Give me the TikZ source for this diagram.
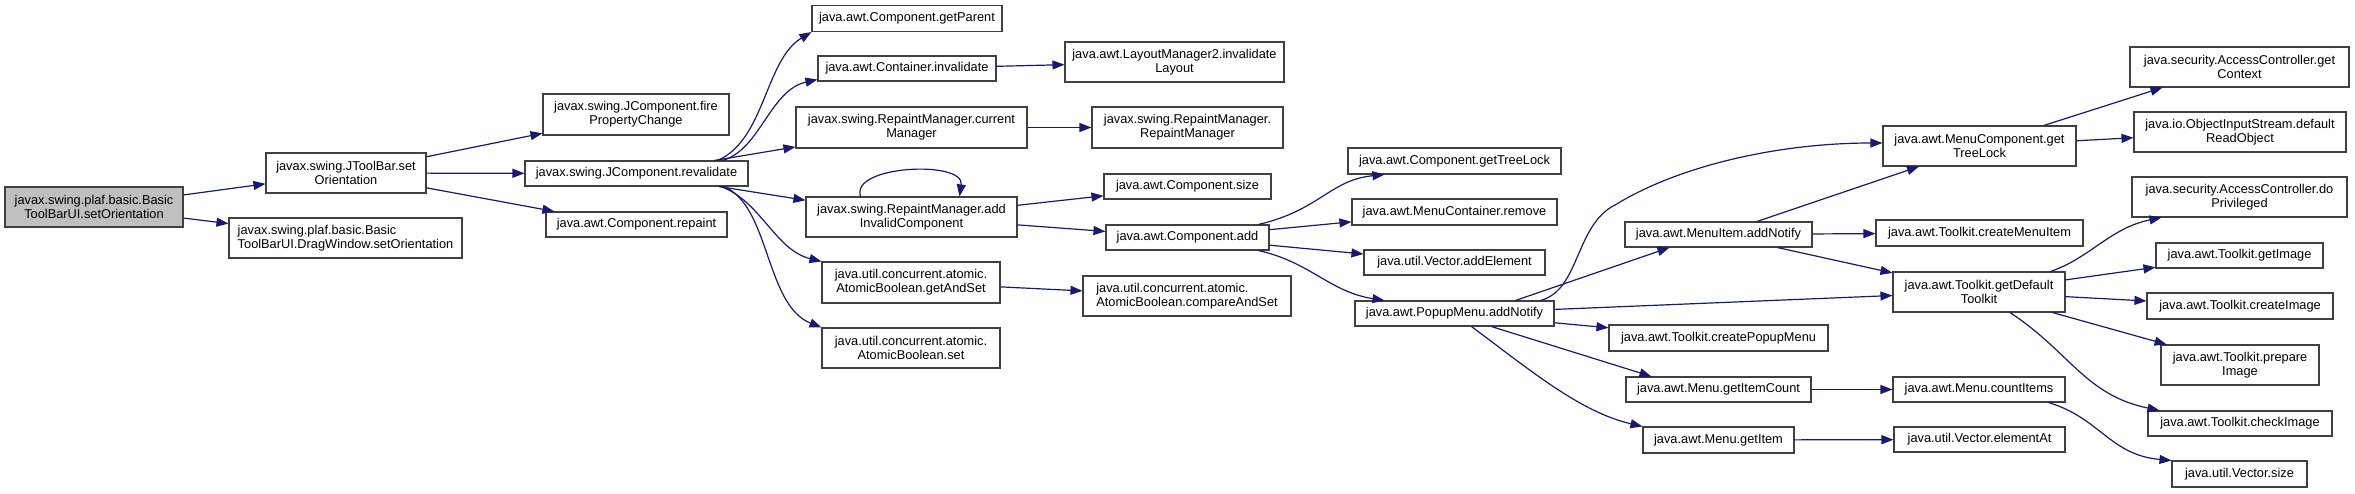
\documentclass[tikz,border=0pt]{standalone}
\usepackage{fontspec}
\setmainfont{Liberation Sans}
\usetikzlibrary{arrows.meta,calc}
\definecolor{edgec}{HTML}{191970}
\definecolor{boxc}{HTML}{404040}
\definecolor{rootfill}{HTML}{BFBFBF}
\newcommand{\dfont}{\fontsize{12.8}{14}\selectfont}
\tikzset{
  box/.style={draw=boxc, line width=1.1pt, fill=white, inner sep=0pt, font=\dfont, text=black, align=center},
  lbox/.style={box, align=left},
  rootbox/.style={box, fill=rootfill},
  edge/.style={draw=edgec, line width=1.2pt, -{Triangle[length=12pt,width=9pt]}}
}
\begin{document}
\begin{tikzpicture}[x=1pt,y=-1pt]
\useasboundingbox (0,0) rectangle (2355,493);
% nodes
\node[rootbox, minimum width=178pt, minimum height=40pt] (root) at (94,207) {javax.swing.plaf.basic.Basic\\ToolBarUI.setOrientation};
\node[box, minimum width=160pt, minimum height=40pt] (tb) at (346,173) {javax.swing.JToolBar.set\\Orientation};
\node[lbox, minimum width=233pt, minimum height=40pt] (dw) at (345.5,238) {javax.swing.plaf.basic.Basic\\ToolBarUI.DragWindow.setOrientation};
\node[box, minimum width=186pt, minimum height=41pt] (fpc) at (636,114.5) {javax.swing.JComponent.fire\\PropertyChange};
\node[box, minimum width=223pt, minimum height=25pt] (rev) at (636.5,173.5) {javax.swing.JComponent.revalidate};
\node[box, minimum width=181pt, minimum height=25pt] (rep) at (636.5,224.5) {java.awt.Component.repaint};
\node[box, minimum width=190pt, minimum height=26pt] (gp) at (907,18.5) {java.awt.Component.getParent};
\node[box, minimum width=178pt, minimum height=25pt] (ci) at (907,68.5) {java.awt.Container.invalidate};
\node[box, minimum width=219pt, minimum height=40pt] (lm) at (1174.5,62) {java.awt.LayoutManager2.invalidate\\Layout};
\node[box, minimum width=231pt, minimum height=41pt] (cm) at (911.5,127.5) {javax.swing.RepaintManager.current\\Manager};
\node[box, minimum width=191pt, minimum height=41pt] (rmrm) at (1187.5,127.5) {javax.swing.RepaintManager.\\RepaintManager};
\node[box, minimum width=211pt, minimum height=40pt] (aic) at (911.5,217) {javax.swing.RepaintManager.add\\InvalidComponent};
\node[box, minimum width=178pt, minimum height=41pt] (gas) at (911,282.5) {java.util.concurrent.atomic.\\AtomicBoolean.getAndSet};
\node[box, minimum width=178pt, minimum height=40pt] (abs) at (911,348) {java.util.concurrent.atomic.\\AtomicBoolean.set};
\node[box, minimum width=167pt, minimum height=25pt] (cs) at (1187.5,186.5) {java.awt.Component.size};
\node[box, minimum width=163pt, minimum height=25pt] (ca) at (1187.5,237.5) {java.awt.Component.add};
\node[lbox, minimum width=208pt, minimum height=40pt] (cas) at (1187,296) {java.util.concurrent.atomic.\\AtomicBoolean.compareAndSet};
\node[box, minimum width=213pt, minimum height=26pt] (gtl) at (1454.5,161) {java.awt.Component.getTreeLock};
\node[box, minimum width=205pt, minimum height=26pt] (mcr) at (1454.5,212) {java.awt.MenuContainer.remove};
\node[box, minimum width=181pt, minimum height=25pt] (vae) at (1454.5,262.5) {java.util.Vector.addElement};
\node[box, minimum width=199pt, minimum height=25pt] (pan) at (1454.5,313.5) {java.awt.PopupMenu.addNotify};
\node[box, minimum width=187pt, minimum height=25pt] (mia) at (1718.5,234.5) {java.awt.MenuItem.addNotify};
\node[box, minimum width=219pt, minimum height=26pt] (tcpm) at (1718.5,338) {java.awt.Toolkit.createPopupMenu};
\node[box, minimum width=185pt, minimum height=25pt] (mgic) at (1718.5,389.5) {java.awt.Menu.getItemCount};
\node[box, minimum width=151pt, minimum height=26pt] (mgi) at (1718.5,440) {java.awt.Menu.getItem};
\node[box, minimum width=193pt, minimum height=40pt] (mctl) at (1979.5,146) {java.awt.MenuComponent.get\\TreeLock};
\node[box, minimum width=207pt, minimum height=26pt] (tcmi) at (1979.5,233) {java.awt.Toolkit.createMenuItem};
\node[box, minimum width=172pt, minimum height=40pt] (gdt) at (1979,292) {java.awt.Toolkit.getDefault\\Toolkit};
\node[box, minimum width=172pt, minimum height=25pt] (mci) at (1979,389.5) {java.awt.Menu.countItems};
\node[box, minimum width=171pt, minimum height=25pt] (vea) at (1979.5,439.5) {java.util.Vector.elementAt};
\node[box, minimum width=219pt, minimum height=40pt] (agc) at (2239.5,67) {java.security.AccessController.get\\Context};
\node[box, minimum width=212pt, minimum height=40pt] (ois) at (2240,132) {java.io.ObjectInputStream.default\\ReadObject};
\node[box, minimum width=215pt, minimum height=40pt] (adp) at (2239.5,197) {java.security.AccessController.do\\Privileged};
\node[box, minimum width=167pt, minimum height=25pt] (tgi) at (2239.5,255.5) {java.awt.Toolkit.getImage};
\node[box, minimum width=186pt, minimum height=26pt] (tci) at (2240,306) {java.awt.Toolkit.createImage};
\node[box, minimum width=158pt, minimum height=40pt] (tpi) at (2240,365) {java.awt.Toolkit.prepare\\Image};
\node[box, minimum width=184pt, minimum height=25pt] (tchk) at (2240,423.5) {java.awt.Toolkit.checkImage};
\node[box, minimum width=135pt, minimum height=26pt] (vs) at (2239.5,474) {java.util.Vector.size};
% edges
\draw[edge] (root) -- (tb);
\draw[edge] (root) -- (dw);
\draw[edge] (tb) -- (fpc);
\draw[edge] (tb) -- (rev);
\draw[edge] (tb) -- ($(rep.north west)+(9,0)$);
\draw[edge] ($(rev.north east)+(-31,0)$) .. controls (765,140) and (765,60) .. (gp.south west);
\draw[edge] ($(rev.north east)+(-26,0)$) .. controls (760,150) and (770,90) .. ($(ci.south west)+(0,-2)$);
\draw[edge] (rev) -- (cm);
\draw[edge] (rev) -- (aic);
\draw[edge] ($(rev.south east)+(-28,0)$) .. controls (760,200) and (775,250) .. (gas.north west);
\draw[edge] ($(rev.south east)+(-25,0)$) .. controls (770,205) and (765,305) .. (abs.north west);
\draw[edge] (ci) -- (lm);
\draw[edge] (cm) -- (rmrm);
\draw[edge] ($(aic.north)+(-51,0)$) .. controls (850,165) and (965,160) .. ($(aic.north)+(48,0)$);
\draw[edge] (aic) -- (cs);
\draw[edge] (aic) -- (ca);
\draw[edge] (gas) -- (cas);
\draw[edge] ($(ca.north east)+(-11,0)$) .. controls (1320,210) and (1330,180) .. ($(gtl.south west)+(37,0)$);
\draw[edge] (ca) -- (mcr);
\draw[edge] (ca) -- (vae);
\draw[edge] ($(ca.south east)+(-11,0)$) .. controls (1310,262) and (1330,292) .. ($(pan.north west)+(30,0)$);
\draw[edge] ($(pan.north east)+(-14,0)$) .. controls (1580,290) and (1575,225) .. (1615,205) .. controls (1680,165) and (1780,143) .. ($(mctl.west)+(0,-3)$);
\draw[edge] ($(pan.north east)+(-39,0)$) -- ($(mia.south west)+(45,0)$);
\draw[edge] (pan) -- (gdt);
\draw[edge] (pan) -- (tcpm);
\draw[edge] ($(pan.south)+(37,0)$) -- ($(mgic.north west)+(26,0)$);
\draw[edge] ($(pan.south)+(17,0)$) .. controls (1530,370) and (1580,412) .. (mgi.north west);
\draw[edge] (mia) -- (mctl);
\draw[edge] (mia) -- (tcmi);
\draw[edge] (mia) -- (gdt);
\draw[edge] (mctl) -- ($(agc.south west)+(33,0)$);
\draw[edge] (mctl) -- (ois);
\draw[edge] ($(gdt.north east)+(-15,0)$) .. controls (2090,258) and (2110,228) .. ($(adp.south west)+(30,0)$);
\draw[edge] (gdt) -- (tgi);
\draw[edge] (gdt) -- (tci);
\draw[edge] (gdt) -- (tpi);
\draw[edge] ($(gdt.south)+(31,0)$) .. controls (2070,352) and (2085,395) .. ($(tchk.north west)+(12,0)$);
\draw[edge] (mgic) -- (mci);
\draw[edge] (mgi) -- (vea);
\draw[edge] ($(mci.south east)+(-17,0)$) .. controls (2100,418) and (2110,455) .. (vs.north west);
\end{tikzpicture}
\end{document}
